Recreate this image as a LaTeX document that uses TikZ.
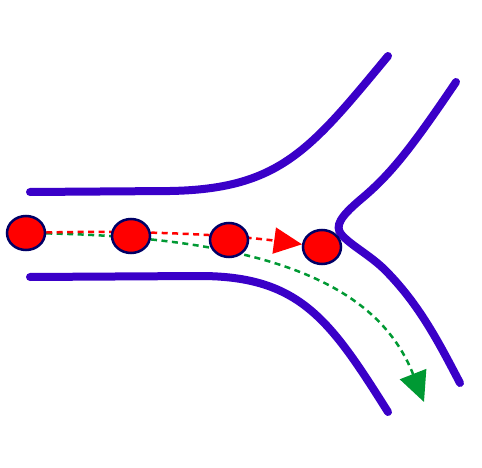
\documentclass[tikz,border=0pt]{standalone}
\usetikzlibrary{arrows.meta,shapes.geometric,backgrounds}
\definecolor{wall}{RGB}{58,0,200}
\definecolor{gr}{RGB}{0,153,51}
\definecolor{nv}{RGB}{0,0,102}
\begin{document}
\begin{tikzpicture}[x=1pt,y=-1pt,
  wallline/.style={draw=wall,line width=8pt,line cap=round},
  ball/.style={ellipse,draw=nv,fill=red,line width=2.5pt,minimum width=38pt,minimum height=34pt,inner sep=0pt},
  trail/.style={line width=2.5pt,dash pattern=on 6pt off 4.5pt}]
\useasboundingbox (0,0) rectangle (482,468);
\node[ball] (n1) at (26,233) {};
\node[ball] (n2) at (131,236) {};
\node[ball] (n3) at (229,240) {};
\node[ball] (n4) at (322,247) {};
\coordinate (gend) at (424,402);
\begin{scope}[on background layer]
\draw[wallline] (30,192) -- (170,191) .. controls (280,189) and (310,150) .. (388,56);
\draw[wallline] (30,277) -- (200,276) .. controls (300,276) and (330,320) .. (388,412);
\draw[wallline] (456,82) .. controls (410,150) and (390,175) .. (360,200) .. controls (340,217) and (335,226) .. (341,234) .. controls (350,245) and (370,255) .. (385,270) .. controls (420,305) and (440,345) .. (460,383);
\draw[trail,gr,-{Triangle[length=30pt,width=28pt]}] (n1) .. controls (280,238) and (380,290) .. (gend);
\draw[trail,red,-{Triangle[length=28pt,width=26pt]}] (n1) .. controls (150,230) and (240,236) .. (n4);
\end{scope}
\end{tikzpicture}
\end{document}
